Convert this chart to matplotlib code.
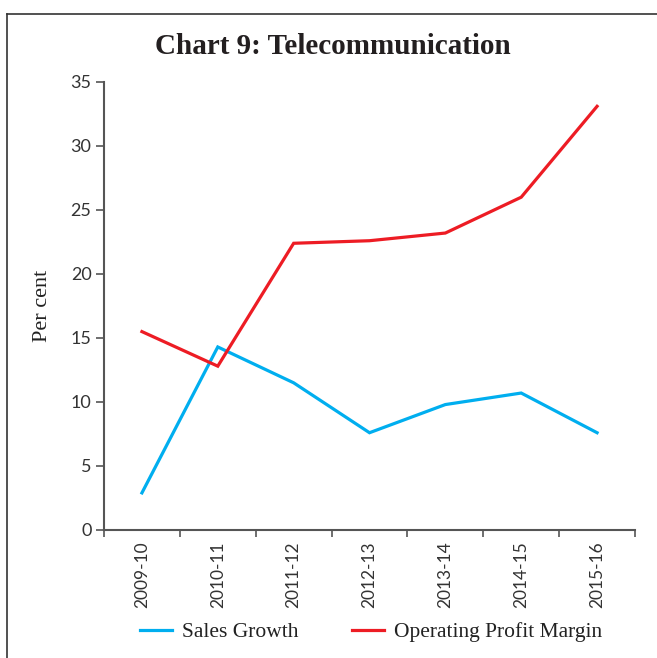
import matplotlib
matplotlib.use("Agg")
import matplotlib.pyplot as plt
from matplotlib.lines import Line2D

categories = ["2009-10", "2010-11", "2011-12", "2012-13", "2013-14", "2014-15", "2015-16"]
sales_growth = [2.9, 14.3, 11.5, 7.6, 9.8, 10.7, 7.6]
operating_profit_margin = [15.5, 12.8, 22.4, 22.6, 23.2, 26.0, 33.1]
y_ticks = [0, 5, 10, 15, 20, 25, 30, 35]

W, H = 657, 658
fig = plt.figure(figsize=(W / 100, H / 100), dpi=100)
ax = fig.add_axes([104 / W, 1 - 530 / H, (635 - 104) / W, (530 - 82) / H])

x = list(range(len(categories)))
ax.plot(x, sales_growth, color="#00AEEF", lw=2.3, label="Sales Growth", solid_joinstyle="miter")
ax.plot(x, operating_profit_margin, color="#ED1C24", lw=2.3, label="Operating Profit Margin",
        solid_joinstyle="miter")

ax.set_xlim(-0.5, len(categories) - 0.5)
ax.set_ylim(0, 35)
ax.set_yticks(y_ticks)
ax.set_yticklabels([str(v) for v in y_ticks], fontfamily="Lato", fontsize=13, color="#333333")
ax.set_xticks([i - 0.5 for i in range(len(categories) + 1)])
ax.set_xticklabels([])
ax.set_xticks(x, minor=True)
ax.set_xticklabels(categories, minor=True, rotation=90, fontfamily="Lato", fontsize=12.5, color="#333333")
ax.tick_params(axis="x", which="minor", length=0, pad=8)
ax.tick_params(axis="x", which="major", length=5, width=1.2, color="#555555")
ax.tick_params(axis="y", length=6, width=1.2, color="#555555", pad=3)

for s in ["top", "right"]:
    ax.spines[s].set_visible(False)
for s in ["left", "bottom"]:
    ax.spines[s].set_color("#555555")
    ax.spines[s].set_linewidth(1.5)

ax.set_ylabel("Per cent", fontfamily="Liberation Serif", fontsize=16, color="#222222", labelpad=13)

fig.text(333 / W, 1 - 46 / H, "Chart 9: Telecommunication", ha="center", va="center",
         fontfamily="Liberation Serif", fontweight="bold", fontsize=21, color="#231F20")

leg = fig.legend(loc="center", bbox_to_anchor=(371 / W, 1 - 632 / H), ncol=2, frameon=False,
                 prop={"family": "Liberation Serif", "size": 15.5}, handlelength=1.5,
                 handletextpad=0.45, columnspacing=2.5)
for t in leg.get_texts():
    t.set_color("#222222")

# frame lines
fig.add_artist(Line2D([7 / W, 1], [1 - 14 / H, 1 - 14 / H], transform=fig.transFigure,
                      color="#333333", lw=1.2))
fig.add_artist(Line2D([7 / W, 7 / W], [1 - 14 / H, 0], transform=fig.transFigure,
                      color="#333333", lw=1.2))

fig.savefig("out.png", dpi=100)
